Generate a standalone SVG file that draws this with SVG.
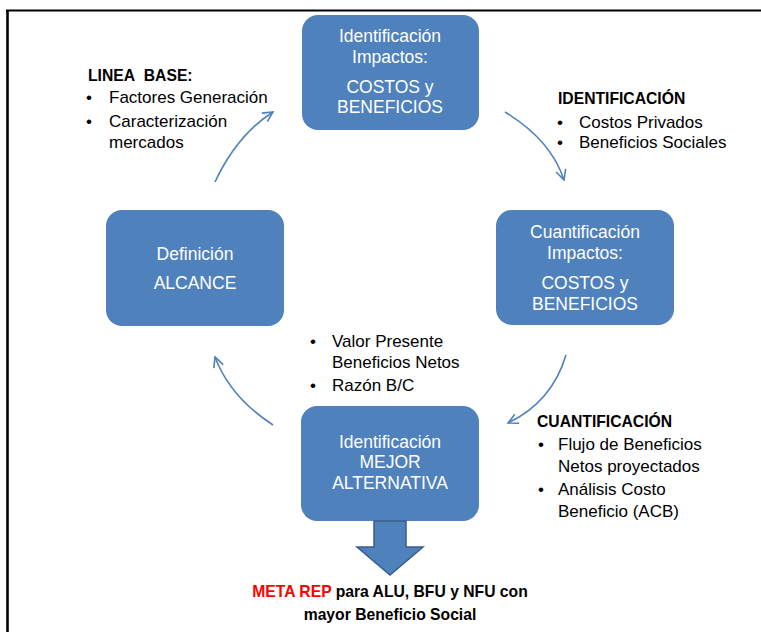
<svg xmlns="http://www.w3.org/2000/svg" width="761" height="632" viewBox="0 0 761 632">
<style>
.box{fill:#4F81BD;stroke:none}
.bt{font-family:"Liberation Sans",Arial,sans-serif;font-size:17.5px;fill:#FFFFFF;text-anchor:middle}
.t{font-family:"Liberation Sans",Arial,sans-serif;font-size:17px;fill:#000000}
.b{font-family:"Liberation Sans",Arial,sans-serif;font-size:15.7px;font-weight:bold;fill:#000000}
.con{fill:none;stroke:#4F81BD;stroke-width:1.6;marker-end:url(#ah)}
</style>
<defs>
<marker id="ah" viewBox="0 0 12 12" refX="11" refY="6" markerWidth="12" markerHeight="12" markerUnits="userSpaceOnUse" orient="auto">
<path d="M1,1 L11,6 L1,11" fill="none" stroke="#4F81BD" stroke-width="1.6"/>
</marker>
</defs>
<rect width="761" height="632" fill="#FFFFFF"/>
<g id="frame">
<line x1="6" y1="10.5" x2="761" y2="10.5" stroke="#000" stroke-width="2.2"/>
<line x1="7.5" y1="10" x2="7.5" y2="632" stroke="#000" stroke-width="2.6"/>
</g>
<g id="connectors">
<path class="con" d="M215,182 Q237,135 273,112"/>
<path class="con" d="M505,112 Q551,140 564,180"/>
<path class="con" d="M566,355 Q552,402 508,423"/>
<path class="con" d="M273,425 Q230,397 215,357"/>
</g>
<g id="node-identificacion-impactos">
<rect class="box" x="302" y="15" width="177" height="115" rx="16"/>
<text class="bt" x="390" y="42">Identificación</text>
<text class="bt" x="390" y="63">Impactos:</text>
<text class="bt" x="390" y="92.5">COSTOS y</text>
<text class="bt" x="390" y="113">BENEFICIOS</text>
</g>
<g id="node-definicion-alcance">
<rect class="box" x="106" y="210" width="178" height="116" rx="16"/>
<text class="bt" x="195" y="260">Definición</text>
<text class="bt" x="195" y="289">ALCANCE</text>
</g>
<g id="node-cuantificacion-impactos">
<rect class="box" x="496" y="210" width="178" height="115" rx="16"/>
<text class="bt" x="585" y="238">Cuantificación</text>
<text class="bt" x="585" y="259">Impactos:</text>
<text class="bt" x="585" y="289">COSTOS y</text>
<text class="bt" x="585" y="310">BENEFICIOS</text>
</g>
<g id="node-mejor-alternativa">
<rect class="box" x="301" y="406" width="178" height="115" rx="16"/>
<text class="bt" x="390" y="448">Identificación</text>
<text class="bt" x="390" y="468">MEJOR</text>
<text class="bt" x="390" y="489">ALTERNATIVA</text>
</g>
<g id="node-linea-base">
<text class="b" x="88" y="81">LINEA&#160; BASE:</text>
<text class="t" x="86" y="103">•</text>
<text class="t" x="109" y="103">Factores Generación</text>
<text class="t" x="86" y="127">•</text>
<text class="t" x="109" y="127">Caracterización</text>
<text class="t" x="109" y="148">mercados</text>
</g>
<g id="node-identificacion-label">
<text class="b" x="558" y="104">IDENTIFICACIÓN</text>
<text class="t" x="557" y="128">•</text>
<text class="t" x="579" y="128">Costos Privados</text>
<text class="t" x="557" y="148">•</text>
<text class="t" x="579" y="148">Beneficios Sociales</text>
</g>
<g id="node-valor-presente">
<text class="t" x="310" y="347">•</text>
<text class="t" x="332" y="347">Valor Presente</text>
<text class="t" x="332" y="368">Beneficios Netos</text>
<text class="t" x="310" y="391">•</text>
<text class="t" x="332" y="391">Razón B/C</text>
</g>
<g id="node-cuantificacion-label">
<text class="b" x="537" y="427">CUANTIFICACIÓN</text>
<text class="t" x="538" y="450">•</text>
<text class="t" x="558" y="450">Flujo de Beneficios</text>
<text class="t" x="558" y="472">Netos proyectados</text>
<text class="t" x="538" y="495">•</text>
<text class="t" x="558" y="495">Análisis Costo</text>
<text class="t" x="558" y="517">Beneficio (ACB)</text>
</g>
<g id="node-meta-arrow">
<path d="M374,521 L406,521 L406,547 L423,547 L390,575 L357,547 L374,547 Z" fill="#4F81BD" stroke="#385D8A" stroke-width="1.5"/>
</g>
<g id="node-meta">
<text class="b" x="390" y="597" text-anchor="middle"><tspan fill="#FF0000">META REP</tspan> para ALU, BFU y NFU con</text>
<text class="b" x="390" y="620" text-anchor="middle">mayor Beneficio Social</text>
</g>
</svg>
